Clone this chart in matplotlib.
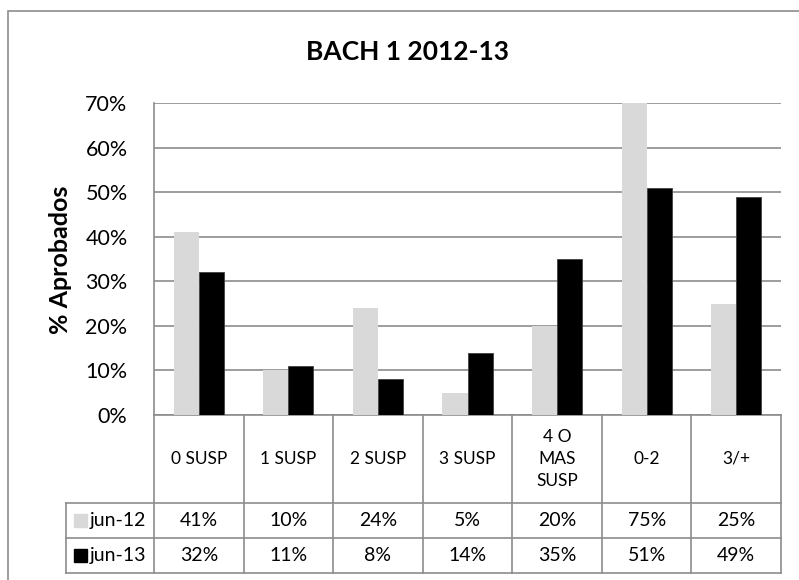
import matplotlib.pyplot as plt
import matplotlib.patches as mpatches
import numpy as np

plt.rcParams['font.family'] = ['Lato', 'DejaVu Sans']

# data
categories = ['0 SUSP', '1 SUSP', '2 SUSP', '3 SUSP', '4 O\nMAS\nSUSP', '0-2', '3/+']
series_names = ['jun-12', 'jun-13']
jun12 = [0.41, 0.10, 0.24, 0.05, 0.20, 0.75, 0.25]
jun13 = [0.32, 0.11, 0.08, 0.14, 0.35, 0.51, 0.49]
yticks = [0, 0.1, 0.2, 0.3, 0.4, 0.5, 0.6, 0.7]
ytick_labels = ['0%', '10%', '20%', '30%', '40%', '50%', '60%', '70%']

colors = ['#D9D9D9', '#000000']
grid_col = '#8C8C8C'

fig = plt.figure(figsize=(7.99, 5.80), dpi=100)
ax = fig.add_axes([154 / 799, 1 - 415 / 580, (781 - 154) / 799, (415 - 103) / 580])

# outer chart border (only top and left visible in the crop)
fig.patches.append(mpatches.Rectangle((8 / 799, -0.1), 1.2, 1.1 - 11 / 580,
                                      transform=fig.transFigure, fill=False,
                                      edgecolor='#8C8C8C', linewidth=1.2))

x = np.arange(len(categories))
w = 0.28
ax.bar(x - w / 2, jun12, w, color=colors[0], zorder=3)
ax.bar(x + w / 2, jun13, w, color=colors[1], edgecolor='#404040', linewidth=0.6, zorder=3)

ax.set_xlim(-0.5, len(categories) - 0.5)
ax.set_ylim(0, 0.7)
ax.set_yticks(yticks)
ax.set_yticklabels(ytick_labels, fontsize=15.5)
ax.set_xticks([])
ax.tick_params(axis='y', length=0, pad=19)
ax.yaxis.grid(True, color=grid_col, linewidth=1.2, zorder=0)
for s in ['top', 'right', 'bottom']:
    ax.spines[s].set_visible(False)
ax.spines['left'].set_color(grid_col)
ax.spines['left'].set_linewidth(1.2)

fig.text(60 / 799, 1 - 260 / 580, '% Aprobados', rotation=90, ha='center', va='center',
         fontsize=18, fontweight='bold')
fig.text(408 / 799, 1 - 52 / 580, 'BACH 1 2012-13', ha='center', va='center',
         fontsize=19, fontweight='bold')

# data table below the plot
trans = ax.get_xaxis_transform()
r0, r1, r2, r3 = 0.0, -0.282, -0.394, -0.506
left_lbl = -1.48
n = len(categories)
lc = '#8C8C8C'
lw = 1.2
kw = dict(transform=trans, color=lc, linewidth=lw, clip_on=False)
# horizontal lines
ax.plot([-0.5, n - 0.5], [r0, r0], **kw)
for r in [r1, r2, r3]:
    ax.plot([left_lbl, n - 0.5], [r, r], **kw)
# vertical lines
for i in range(n + 1):
    ax.plot([i - 0.5, i - 0.5], [r0, r3], **kw)
ax.plot([left_lbl, left_lbl], [r1, r3], **kw)

for i, c in enumerate(categories):
    ax.text(i, (r0 + r1) / 2, c, transform=trans, ha='center', va='center',
            fontsize=12.5, linespacing=1.45)
for vals, (ya, yb) in [(jun12, (r1, r2)), (jun13, (r2, r3))]:
    for i, v in enumerate(vals):
        ax.text(i, (ya + yb) / 2, '{:.0f}%'.format(v * 100), transform=trans,
                ha='center', va='center', fontsize=14)

for k, (name, (ya, yb)) in enumerate(zip(series_names, [(r1, r2), (r2, r3)])):
    ym = (ya + yb) / 2
    ax.add_patch(mpatches.Rectangle((left_lbl + 0.09, ym - 0.022), 0.145, 0.044,
                                    transform=trans, color=colors[k], clip_on=False))
    ax.text(left_lbl + 0.26, ym, name, transform=trans, ha='left', va='center',
            fontsize=14)

plt.savefig('out.png', dpi=100)
